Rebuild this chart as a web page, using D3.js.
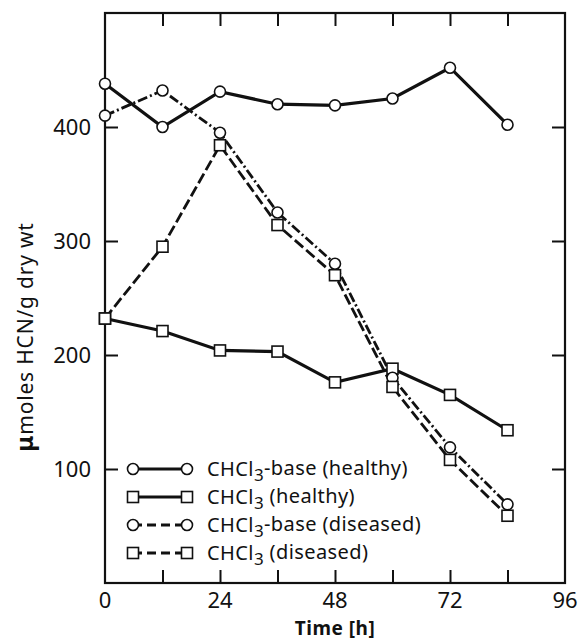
<!DOCTYPE html>
<html>
<head>
<meta charset="utf-8">
<script src="https://cdn.jsdelivr.net/npm/d3@7"></script>
<style>
  body { margin: 0; background: #fff; }
  text { font-family: "Noto Sans", "DejaVu Sans", sans-serif; fill: #111; }
</style>
</head>
<body>
<div id="chart"></div>
<script>
// time points (h)
var hours = [0, 12, 24, 36, 48, 60, 72, 84];

// series values, umoles HCN / g dry wt
var baseHealthy = [438, 400, 431, 420, 419, 425, 452, 402];
var chclHealthy = [232, 221, 204, 203, 176, 188, 165, 134];
var baseDiseased = [410, 432, 395, 325, 280, 180, 119, 69];
var chclDiseased = [232, 295, 384, 314, 270, 172, 108, 59];

var xTickLabels = [0, 24, 48, 72, 96];
var xMinorTicks = [12, 24, 36, 48, 60, 72, 84];
var yTickLabels = [100, 200, 300, 400];

var seriesNames = ["CHCl3-base (healthy)", "CHCl3 (healthy)", "CHCl3-base (diseased)", "CHCl3 (diseased)"];

var series = [
    { name: seriesNames[0], values: baseHealthy, marker: "circle", dash: null, width: 3.2 },
    { name: seriesNames[1], values: chclHealthy, marker: "square", dash: null, width: 3.2 },
    { name: seriesNames[2], values: baseDiseased, marker: "circle", dash: "10,3,2,3", width: 2.8 },
    { name: seriesNames[3], values: chclDiseased, marker: "square", dash: "11,4", width: 2.8 }
];

var margin = { top: 13, right: 17, bottom: 57, left: 105 };
var width = 582 - margin.left - margin.right,
    height = 640 - margin.top - margin.bottom;

var svg = d3.select("#chart").append("svg")
    .attr("width", 582)
    .attr("height", 640)
    .append("g")
    .attr("transform", "translate(" + margin.left + "," + margin.top + ")");

var x = d3.scaleLinear().domain([0, 96]).range([0, width]);
var y = d3.scaleLinear().domain([0, 500]).range([height, 0]);

// frame
svg.append("rect")
    .attr("width", width)
    .attr("height", height)
    .attr("fill", "none")
    .attr("stroke", "#111")
    .attr("stroke-width", 2.2);

// inward ticks on all four sides
var tickLen = 13;
svg.append("g").attr("class", "x-axis axis")
    .attr("transform", "translate(0," + height + ")")
    .call(d3.axisTop(x).tickValues(xMinorTicks).tickSize(tickLen).tickFormat(""));
svg.append("g").attr("class", "x-axis-top axis")
    .call(d3.axisBottom(x).tickValues(xMinorTicks).tickSize(tickLen).tickFormat(""));
svg.append("g").attr("class", "y-axis axis")
    .call(d3.axisRight(y).tickValues(yTickLabels).tickSize(tickLen).tickFormat(""));
svg.append("g").attr("class", "y-axis-right axis")
    .attr("transform", "translate(" + width + ",0)")
    .call(d3.axisLeft(y).tickValues(yTickLabels).tickSize(tickLen).tickFormat(""));

svg.selectAll(".axis .domain").remove();
svg.selectAll(".axis line").attr("stroke", "#111").attr("stroke-width", 2);

// tick labels
svg.selectAll(".xlab")
    .data(xTickLabels)
    .enter().append("text")
    .attr("class", "xlab")
    .attr("x", d => x(d))
    .attr("y", height + 25)
    .attr("text-anchor", "middle")
    .style("font-size", "22px")
    .text(d => d);

svg.selectAll(".ylab")
    .data(yTickLabels)
    .enter().append("text")
    .attr("class", "ylab")
    .attr("x", -14)
    .attr("y", d => y(d))
    .attr("dy", "0.36em")
    .attr("text-anchor", "end")
    .style("font-size", "22px")
    .text(d => d);

// axis titles
svg.append("text")
    .attr("x", x(48))
    .attr("y", height + 52)
    .attr("text-anchor", "middle")
    .style("font-size", "19px")
    .style("font-weight", "bold")
    .style("letter-spacing", "0.5px")
    .text("Time [h]");

var yTitle = svg.append("text")
    .attr("transform", "translate(-72,324) rotate(-90)")
    .attr("text-anchor", "middle")
    .style("font-size", "21px")
    .style("letter-spacing", "0.8px");
yTitle.append("tspan").style("font-weight", "bold").style("font-size", "24px").text("\u03bc");
yTitle.append("tspan").text("moles HCN/g dry wt");

// lines
var line = d3.line()
    .x((d, i) => x(hours[i]))
    .y(d => y(d));

series.forEach(function(s) {
    svg.append("path")
        .datum(s.values)
        .attr("fill", "none")
        .attr("stroke", "#111")
        .attr("stroke-width", s.width)
        .attr("stroke-dasharray", s.dash)
        .attr("d", line);
});

function drawMarker(g, type, cx, cy) {
    if (type === "circle") {
        g.append("circle")
            .attr("cx", cx).attr("cy", cy).attr("r", 5.5)
            .attr("fill", "#fff").attr("stroke", "#111").attr("stroke-width", 1.6);
    } else {
        g.append("rect")
            .attr("x", cx - 5.5).attr("y", cy - 5.5)
            .attr("width", 11).attr("height", 11)
            .attr("fill", "#fff").attr("stroke", "#111").attr("stroke-width", 1.6);
    }
}

var markers = svg.append("g");
series.forEach(function(s) {
    s.values.forEach(function(v, i) {
        drawMarker(markers, s.marker, x(hours[i]), y(v));
    });
});

// legend
var legend = svg.append("g").attr("transform", "translate(28," + y(100) + ")");
series.forEach(function(s, i) {
    var row = legend.append("g").attr("transform", "translate(0," + (i * 28) + ")");
    row.append("line")
        .attr("x1", 0).attr("x2", 54)
        .attr("stroke", "#111")
        .attr("stroke-width", s.width)
        .attr("stroke-dasharray", s.dash ? "9,5" : null);
    drawMarker(row, s.marker, 0, 0);
    drawMarker(row, s.marker, 54, 0);
    var t = row.append("text")
        .attr("x", 74)
        .attr("dy", "0.36em")
        .style("font-size", "20px")
        .style("letter-spacing", "0.4px");
    var parts = s.name.split("3");
    t.append("tspan").text(parts[0]);
    t.append("tspan").attr("dy", "0.3em").style("font-size", "17px").text("3");
    t.append("tspan").attr("dy", "-0.3em").text(parts[1].replace(" (", i % 2 === 0 ? " (" : "  ("));
});
</script>
</body>
</html>
